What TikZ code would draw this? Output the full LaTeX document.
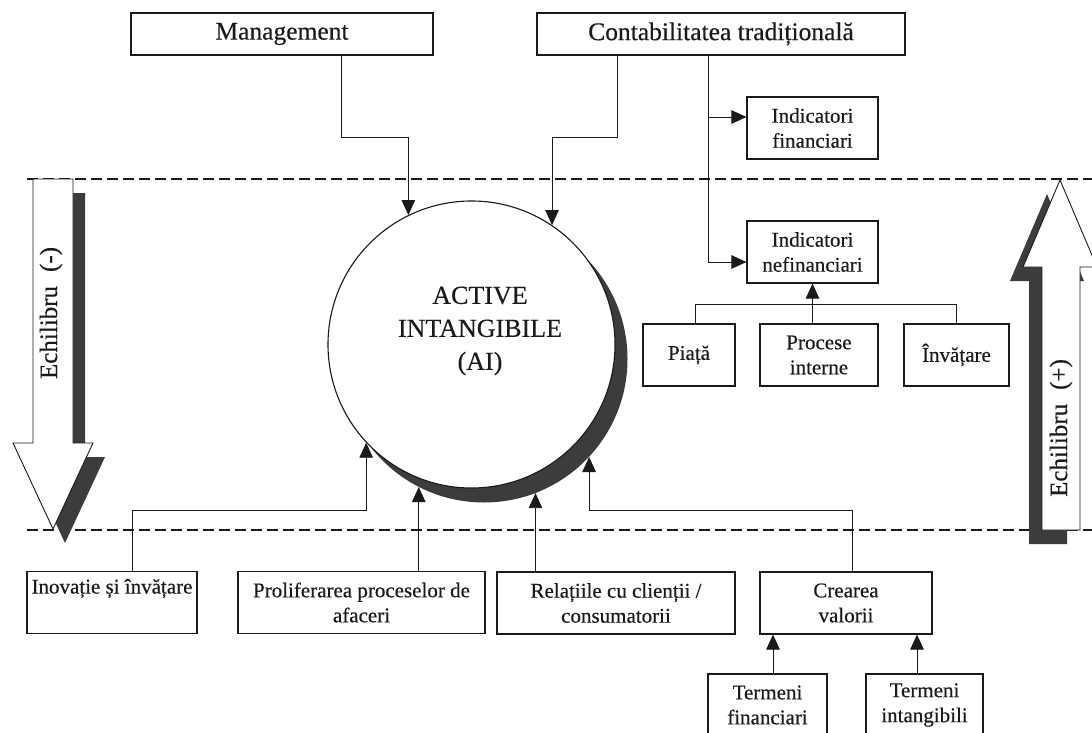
\documentclass[tikz,border=0pt]{standalone}
\usepackage{fontspec}
\setmainfont{Liberation Serif}[FakeBold=0.35]
\usetikzlibrary{arrows.meta}
\definecolor{shd}{HTML}{3C3C3C}
\definecolor{ink}{HTML}{1A1A1A}
\begin{document}
\begin{tikzpicture}[x=1pt,y=-1pt,
  box/.style={draw=ink, line width=1.1pt, fill=white, inner sep=0pt, align=center, text=ink},
  big/.style={box, font=\fontsize{25.5}{28}\selectfont, minimum height=42pt},
  small/.style={box, font=\fontsize{21}{25}\selectfont, minimum height=62pt},
  conn/.style={draw=ink, line width=0.9pt},
  arr/.style={conn, -{Triangle[length=15pt,width=13.5pt]}},
  dline/.style={draw=ink, line width=1.4pt, dash pattern=on 11pt off 5pt},
  eqtext/.style={rotate=90, font=\fontsize{25}{25}\selectfont, text=ink},
]
\useasboundingbox (0,0) rectangle (1092,733);
\fill[white] (0,0) rectangle (1092,733);

% dashed limits
\coordinate (dTL) at (27,179);
\coordinate (dTR) at (1092,179);
\coordinate (dBL) at (27,530);
\coordinate (dBR) at (1092,530);
\draw[dline] (dTL) -- (dTR);
\draw[dline] (dBL) -- (dBR);

% left arrow Echilibru (-)
\begin{scope}[shift={(12,14)}]
\fill[shd] (33,179) -- (73,179) -- (73,443) -- (93,443) -- (53,529) -- (13,443) -- (33,443) -- cycle;
\end{scope}
\draw[ink, line width=0.9pt, fill=white] (33,179) -- (73,179) -- (73,443) -- (93,443) -- (53,529) -- (13,443) -- (33,443) -- cycle;
\node[eqtext] (eqm) at (51,313) {Echilibru\hspace{14pt}(-)};

% right arrow Echilibru (+)
\begin{scope}[shift={(-13,14)}]
\fill[shd] (1060,180) -- (1097,267) -- (1080,267) -- (1080,530) -- (1042,530) -- (1042,267) -- (1023,267) -- cycle;
\end{scope}
\draw[ink, line width=0.9pt, fill=white] (1060,180) -- (1097,267) -- (1080,267) -- (1080,530) -- (1042,530) -- (1042,267) -- (1023,267) -- cycle;
\node[eqtext] (eqp) at (1061,428) {Echilibru\hspace{14pt}(+)};

% central circle
\node[circle, fill=shd, minimum size=287pt, inner sep=0pt] (aish) at (484,359) {};
\node[circle, draw=ink, line width=1.1pt, fill=white, minimum size=287pt, inner sep=0pt] (ai) at (471.5,344.5) {};
\node[font=\fontsize{26}{33}\selectfont, align=center, text=ink] (ailbl) at (480,331) {ACTIVE\\INTANGIBILE\\(AI)};

% boxes
\node[big, minimum width=302pt] (mgmt) at (282,34) {Management};
\node[big, minimum width=368pt] (contab) at (721,34) {Contabilitatea tradițională};
\node[small, minimum width=131pt] (indfin) at (812.5,128) {Indicatori\\financiari};
\node[small, minimum width=131pt] (indnef) at (812.5,252) {Indicatori\\nefinanciari};
\node[small, minimum width=92pt] (piata) at (689,355) {Piață};
\node[small, minimum width=118pt] (procese) at (819,355) {Procese\\interne};
\node[small, minimum width=105pt] (invatare) at (956.5,355) {Învățare};
\node[small, minimum width=170pt] (ino) at (112,602.5) {Inovație și învățare\\\strut};
\node[small, minimum width=247pt] (prol) at (361.5,602.5) {Proliferarea proceselor de\\afaceri};
\node[small, minimum width=238pt] (rel) at (616,603) {Relațiile cu clienții /\\consumatorii};
\node[small, minimum width=172pt] (crea) at (846,603) {Crearea\\valorii};
\node[small, minimum width=119pt] (tfin) at (767.5,705) {Termeni\\financiari};
\node[small, minimum width=117pt] (tint) at (924.5,705) {Termeni\\intangibili};

% top connectors
\draw[arr] (mgmt.south -| 341,0) |- (ai.116.7 |- 0,137) -- (ai.116.7);
\draw[arr] (contab.south -| 617,0) |- (ai.56.4 |- 0,137) -- (ai.56.4);
\coordinate (jfin) at (708,117);
\draw[arr] (contab.south -| 708,0) |- (indnef.west |- 0,262);
\draw[arr] (jfin) -- (indfin.west |- jfin);
\draw[conn] (piata.north -| 695,0) |- (invatare.north |- 0,304) -- (invatare.north);
\draw[arr] (procese.north -| indnef.south) -- (indnef.south);

% bottom connectors
\draw[arr] (ino.north -| 132,0) |- (ai.223.3 |- 0,510) -- (ai.223.3);
\draw[arr] (prol.north -| aish.243.5) -- (aish.243.5);
\draw[arr] (rel.north -| aish.291.7) -- (aish.291.7);
\draw[arr] (crea.north -| 852,0) |- (aish.317.6 |- 0,510) -- (aish.317.6);
\draw[arr] (tfin.north -| 773,0) -- (crea.south -| 773,0);
\draw[arr] (tint.north -| 917,0) -- (crea.south -| 917,0);
\end{tikzpicture}
\end{document}
